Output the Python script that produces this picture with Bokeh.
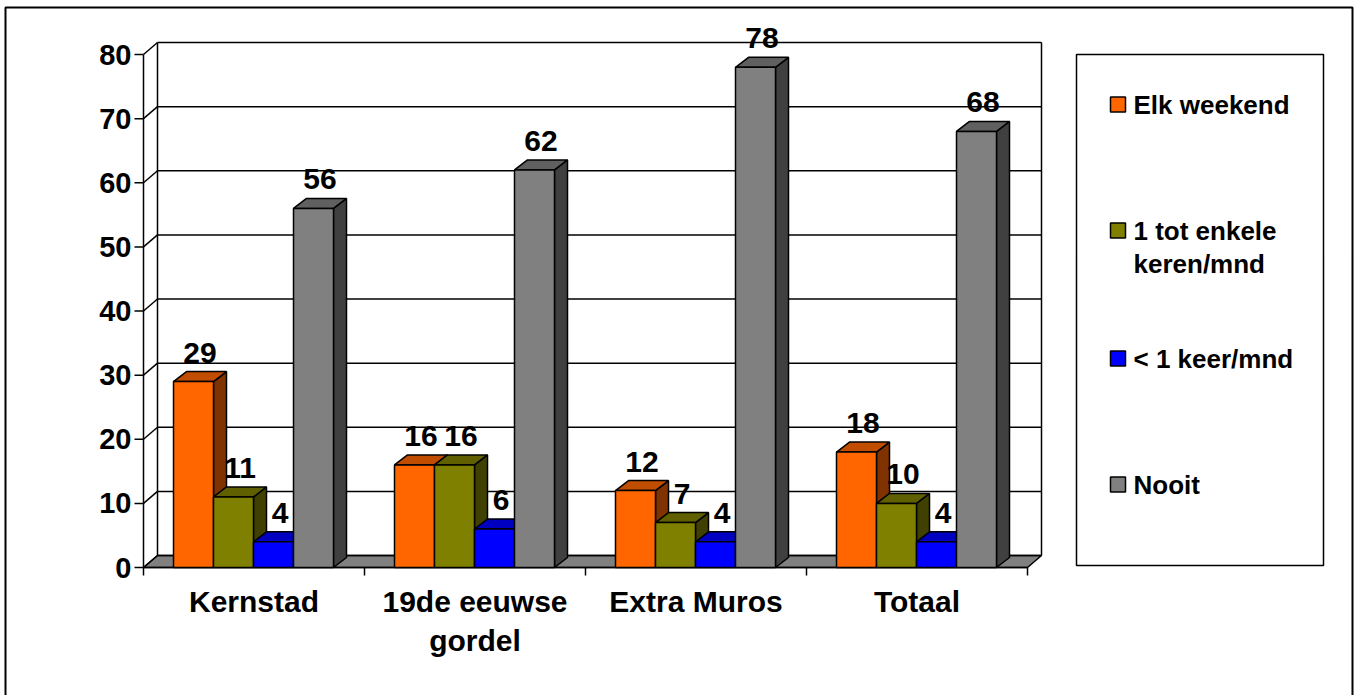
from bokeh.plotting import figure
from bokeh.models import Range1d, ColumnDataSource
from bokeh.core.properties import value
from bokeh.embed import file_html
from bokeh.resources import INLINE

# ---- data -------------------------------------------------------------
categories = ["Kernstad", "19de eeuwse\ngordel", "Extra Muros", "Totaal"]
series_names = ["Elk weekend", "1 tot enkele\nkeren/mnd", "< 1 keer/mnd", "Nooit"]
elk_weekend = [29, 16, 12, 18]
enkele_keren_mnd = [11, 16, 7, 10]
minder_dan_1_keer = [4, 6, 4, 4]
nooit = [56, 62, 78, 68]
y_ticks = [0, 10, 20, 30, 40, 50, 60, 70, 80]

series_values = [elk_weekend, enkele_keren_mnd, minder_dan_1_keer, nooit]

# ---- styling ----------------------------------------------------------
front_colors = ["#FF6600", "#808000", "#0000FF", "#808080"]
top_colors = ["#C04D00", "#606000", "#0000C0", "#606060"]
side_colors = ["#803300", "#404000", "#000080", "#404040"]
FONT = value("Liberation Sans")

W, H = 1359, 695
AXIS_PX = 143          # screen x of the front value axis
ZERO_PX = 567          # screen y of the value 0 on the front plane
CAT_PX = 221           # screen width of one category slot
Y_PX = 513 / 80        # screen pixels per value unit


def X(px):
    """screen x -> data x (categories are one unit wide)"""
    return (px - AXIS_PX) / CAT_PX


def Y(py):
    """screen y (from top) -> data y (value units)"""
    return (ZERO_PX - py) / Y_PX


def DX(px):
    return px / CAT_PX


def DY(px):
    return px / Y_PX


WALL_DX, WALL_DY = DX(14), DY(12)   # depth of the chart walls
BAR_DX, BAR_DY = DX(13), DY(10)     # depth of each column
BAR_W = DX(40)
GAP = DX(30)
n_cat = len(categories)
y_max = y_ticks[-1]

p = figure(width=W, height=H, x_range=Range1d(X(0), X(W)), y_range=Range1d(Y(H), Y(0)),
           x_axis_type=None, y_axis_type=None, toolbar_location=None,
           output_backend="svg", min_border=0, outline_line_color=None,
           background_fill_color="white", border_fill_color="white")

# ---- walls and floor --------------------------------------------------
p.patch([0, n_cat, n_cat + WALL_DX, WALL_DX], [0, 0, WALL_DY, WALL_DY],
        fill_color="#808080", line_color="black", line_width=1.5)

# back-wall gridlines and their continuation over the side wall
p.segment(x0=[WALL_DX] * len(y_ticks), y0=[t + WALL_DY for t in y_ticks],
          x1=[n_cat + WALL_DX] * len(y_ticks), y1=[t + WALL_DY for t in y_ticks],
          line_color="black", line_width=1.5)
p.segment(x0=[0] * len(y_ticks), y0=y_ticks,
          x1=[WALL_DX] * len(y_ticks), y1=[t + WALL_DY for t in y_ticks],
          line_color="black", line_width=1.5)
p.segment(x0=[WALL_DX, n_cat + WALL_DX], y0=[WALL_DY, WALL_DY],
          x1=[WALL_DX, n_cat + WALL_DX], y1=[y_max + WALL_DY, y_max + WALL_DY],
          line_color="black", line_width=1.5)

# front value axis with outward ticks
p.segment(x0=[0], y0=[0], x1=[0], y1=[y_max], line_color="black", line_width=1.5)
p.segment(x0=[DX(-9)] * len(y_ticks), y0=y_ticks, x1=[0] * len(y_ticks), y1=y_ticks,
          line_color="black", line_width=1.5)
p.text(x=[DX(-12)] * len(y_ticks), y=y_ticks, text=[str(t) for t in y_ticks],
       text_align="right", text_baseline="middle", text_font=FONT,
       text_font_style="bold", text_font_size="29px", text_color="black")

# category axis: front edge with ticks between the categories
cat_edges = list(range(n_cat + 1))
p.segment(x0=[0], y0=[0], x1=[n_cat], y1=[0], line_color="black", line_width=1.5)
p.segment(x0=cat_edges, y0=[0] * len(cat_edges), x1=cat_edges, y1=[DY(-8)] * len(cat_edges),
          line_color="black", line_width=1.5)

cat_x, cat_y, cat_txt = [], [], []
for i, name in enumerate(categories):
    for k, line in enumerate(name.split("\n")):
        cat_x.append(i + 0.5)
        cat_y.append(Y(601 + 39 * k))
        cat_txt.append(line)
p.text(x=cat_x, y=cat_y, text=cat_txt, text_align="center", text_baseline="middle",
       text_font=FONT, text_font_style="bold", text_font_size="30px", text_color="black")

# ---- 3D columns -------------------------------------------------------
for s, vals in enumerate(series_values):
    left = [i + GAP + s * BAR_W for i in range(n_cat)]
    right = [l + BAR_W for l in left]
    side_xs = [[r, r + BAR_DX, r + BAR_DX, r] for r in right]
    side_ys = [[0, BAR_DY, v + BAR_DY, v] for v in vals]
    top_xs = [[l, r, r + BAR_DX, l + BAR_DX] for l, r in zip(left, right)]
    top_ys = [[v, v, v + BAR_DY, v + BAR_DY] for v in vals]
    p.patches(side_xs, side_ys, fill_color=side_colors[s], line_color="black", line_width=1.5)
    p.patches(top_xs, top_ys, fill_color=top_colors[s], line_color="black", line_width=1.5)
    src = ColumnDataSource(dict(left=left, right=right, top=vals, bottom=[0] * n_cat))
    p.quad(left="left", right="right", top="top", bottom="bottom", source=src,
           fill_color=front_colors[s], line_color="black", line_width=1.5)

# value labels above each column
for s, vals in enumerate(series_values):
    lx = [i + GAP + s * BAR_W + BAR_W / 2 + BAR_DX / 2 for i in range(n_cat)]
    ly = [v + DY(29) for v in vals]
    p.text(x=lx, y=ly, text=[str(v) for v in vals], text_align="center",
           text_baseline="middle", text_font=FONT, text_font_style="bold",
           text_font_size="30px", text_color="black")

# ---- legend -----------------------------------------------------------
p.quad(left=[X(1076)], right=[X(1323)], top=[Y(54)], bottom=[Y(565)],
       fill_color="white", line_color="black", line_width=1.5)
legend_rows = [104, 230, 358, 484]
p.quad(left=[X(1110)] * 4, right=[X(1125)] * 4,
       top=[Y(r - 7.5) for r in legend_rows], bottom=[Y(r + 7.5) for r in legend_rows],
       fill_color=front_colors, line_color="black", line_width=1.5)
leg_x, leg_y, leg_txt = [], [], []
for r, name in zip(legend_rows, series_names):
    for k, line in enumerate(name.split("\n")):
        leg_x.append(X(1133))
        leg_y.append(Y(r + 33 * k))
        leg_txt.append(line)
p.text(x=leg_x, y=leg_y, text=leg_txt, text_align="left", text_baseline="middle",
       text_font=FONT, text_font_style="bold", text_font_size="26px", text_color="black")

# ---- chart-area border ------------------------------------------------
p.line(x=[X(5), X(5), X(1352), X(1352)], y=[Y(H + 5), Y(7), Y(7), Y(H + 5)],
       line_color="black", line_width=2)

open("out.html", "w").write(file_html(p, INLINE))
